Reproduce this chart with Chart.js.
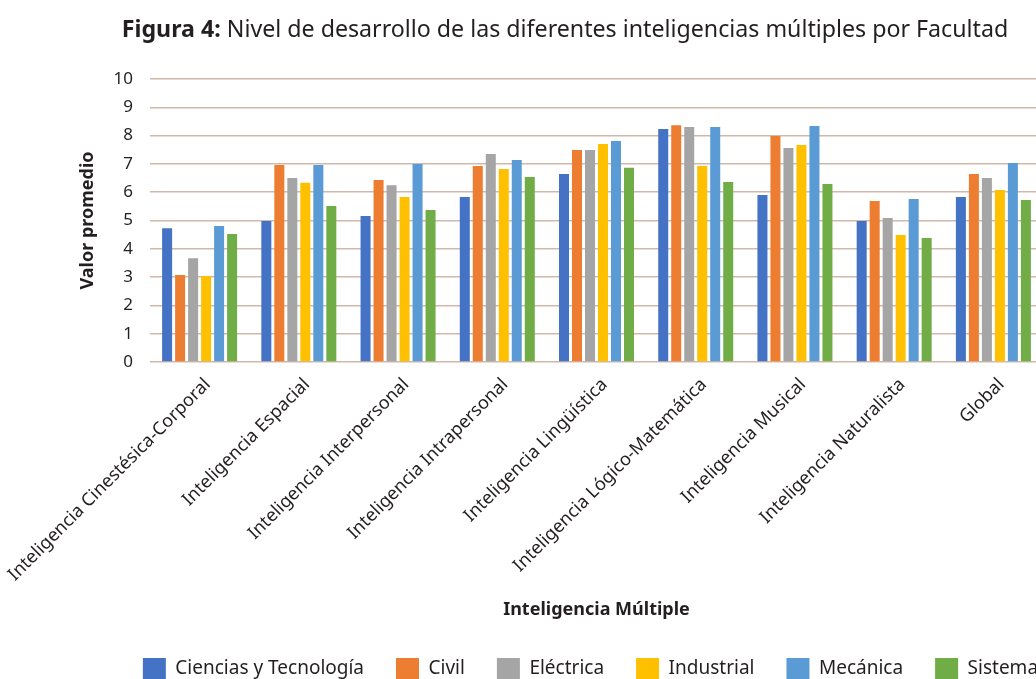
<!DOCTYPE html>
<html>
<head>
<meta charset="utf-8">
<script src="https://cdn.jsdelivr.net/npm/chart.js@4"></script>
<style>
  html, body { margin: 0; padding: 0; background: #fff; overflow: hidden; }
  #wrap { position: relative; width: 1036px; height: 679px; overflow: hidden; }
  #title { position: absolute; top: 12px; left: 0; width: 1130px; text-align: center;
           font-family: "Noto Sans", sans-serif; font-size: 23.2px; color: #231f20; white-space: nowrap; }
  #box { position: absolute; top: 0; left: 0; width: 1190px; height: 690px; }
</style>
</head>
<body>
<div id="wrap">
  <div id="box"><canvas id="chart"></canvas></div>
  <div id="title"><b>Figura 4:</b> Nivel de desarrollo de las diferentes inteligencias múltiples por Facultad</div>
</div>
<script>
const categories = [
  "Inteligencia Cinestésica-Corporal",
  "Inteligencia Espacial",
  "Inteligencia Interpersonal",
  "Inteligencia Intrapersonal",
  "Inteligencia Lingüística",
  "Inteligencia Lógico-Matemática",
  "Inteligencia Musical",
  "Inteligencia Naturalista",
  "Global"
];
const seriesNames = ["Ciencias y Tecnología", "Civil", "Eléctrica", "Industrial", "Mecánica", "Sistemas"];
const ciencias   = [4.73, 4.98, 5.16, 5.83, 6.64, 8.23, 5.90, 4.98, 5.83];
const civil      = [3.07, 6.96, 6.43, 6.93, 7.49, 8.37, 7.99, 5.69, 6.64];
const electrica  = [3.67, 6.50, 6.25, 7.35, 7.49, 8.30, 7.56, 5.09, 6.50];
const industrial = [3.04, 6.33, 5.83, 6.82, 7.70, 6.93, 7.67, 4.49, 6.08];
const mecanica   = [4.81, 6.96, 7.00, 7.14, 7.81, 8.30, 8.34, 5.76, 7.03];
const sistemas   = [4.52, 5.51, 5.37, 6.54, 6.86, 6.36, 6.29, 4.38, 5.72];
const yTicks = [0, 1, 2, 3, 4, 5, 6, 7, 8, 9, 10];

const seriesValues = [ciencias, civil, electrica, industrial, mecanica, sistemas];
const colors = ["#4472C4", "#ED7D31", "#A5A5A5", "#FFC000", "#5B9BD5", "#70AD47"];
const FONT = "'Noto Sans', sans-serif";

let ctx = document.querySelector("#chart");
let chart = new Chart(ctx, {
  type: "bar",
  data: {
    labels: categories,
    datasets: seriesNames.map((name, i) => ({
      label: name,
      data: seriesValues[i],
      backgroundColor: colors[i],
      borderWidth: 0,
      barPercentage: 0.77,
      categoryPercentage: 0.786,
    })),
  },
  options: {
    responsive: true,
    maintainAspectRatio: false,
    animation: false,
    layout: {
      padding: { top: 79, right: 0, left: 0, bottom: 0 },
    },
    plugins: {
      tooltip: { enabled: false },
      legend: {
        position: "bottom",
        labels: {
          boxWidth: 23,
          boxHeight: 22,
          padding: 32,
          color: "#231f20",
          font: { family: FONT, size: 19 },
        },
      },
    },
    scales: {
      x: {
        grid: { display: false, drawTicks: false },
        border: { display: false },
        ticks: {
          minRotation: 45,
          maxRotation: 45,
          padding: 12,
          labelOffset: 8,
          color: "#231f20",
          font: { family: FONT, size: 18 },
        },
        title: {
          display: true,
          text: "Inteligencia Múltiple",
          color: "#231f20",
          font: { family: FONT, size: 18, weight: "bold" },
          padding: { top: 0, bottom: 5 },
        },
        afterFit: (scale) => {
          scale.height = 264;
          scale.paddingLeft = 0;
          scale.paddingRight = 0;
        },
      },
      y: {
        min: 0,
        max: 10,
        afterBuildTicks: (scale) => { scale.ticks = yTicks.map((v) => ({ value: v })); },
        grid: { color: "#d0b8aa", lineWidth: 1.5, drawTicks: false },
        border: { display: false },
        ticks: {
          padding: 17,
          color: "#231f20",
          font: { family: FONT, size: 17 },
        },
        title: {
          display: true,
          text: "Valor promedio",
          color: "#231f20",
          font: { family: FONT, size: 18, weight: "bold" },
          padding: { top: 77, bottom: 0 },
        },
        afterFit: (scale) => { scale.width = 150; },
      },
      // empty right-hand axis: only reserves the blank space right of the plot
      gap: {
        type: "linear",
        position: "right",
        grid: { display: false, drawTicks: false },
        border: { display: false },
        ticks: { display: false },
        afterFit: (scale) => { scale.width = 147; },
      },
    },
  },
});
</script>
</body>
</html>
